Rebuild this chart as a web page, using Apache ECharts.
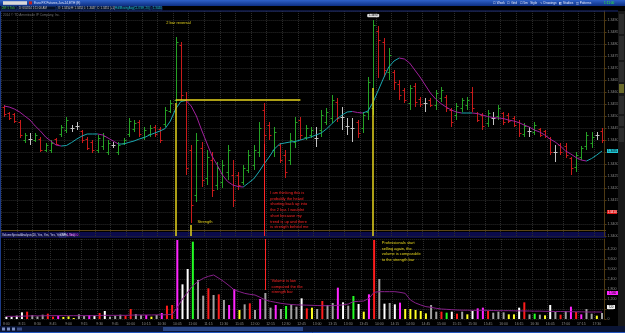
<!DOCTYPE html>
<html><head><meta charset="utf-8">
<script src="https://cdn.jsdelivr.net/npm/echarts@6/dist/echarts.min.js"></script>
<style>html,body{margin:0;padding:0;background:#000;}#c{width:625px;height:333px;}</style>
</head><body><div id="c"></div>
<script>
// ---- price bars (points; 12 pts = 0.0005) ----
const priceOpen = [129,123,122,114,96,97,96,97,86,86, 97,102,106,108,110,105,97,94,86,90, 84,91,84,93,102,107,114,99,102,109, 107,112,125,136,191,136,86,41,88,58, 76,51,54,64,61,61,54,66,71,84, 126,111,86,91,81,76,94,116,99,101, 98,106,114,118,134,119,110,108,114,108, 124,128,205,194,164,164,152,146,133,150, 137,133,136,131,138,139,126,121,128,131, 144,123,121,113,118,120,123,121,118,114, 102,105,104,107,105,98,84,91,90,78, 69,79,90,93,101,105];
const priceClose = [122,118,115,101,101,97,101,86,91,93, 92,109,116,108,110,96,88,86,98,100, 93,91,91,96,115,113,102,106,108,102, 96,126,133,194,141,68,31,96,56,79, 46,68,71,86,36,51,68,81,86,108, 101,101,104,76,64,96,114,101,108,106, 98,121,124,136,118,119,110,108,103,121, 154,211,196,166,181,154,141,136,148,134, 132,133,131,143,146,128,114,130,136,136, 128,116,110,123,118,128,114,115,111,103, 110,105,111,101,100,84,84,84,81,68, 81,88,101,99,101,96];
const priceHigh = [131,124,123,116,103,103,103,99,93,96, 98,111,119,111,114,106,99,96,101,103, 96,94,94,98,118,116,116,109,111,111, 109,129,136,199,194,144,91,103,94,86, 84,74,76,91,76,64,71,86,91,114, 133,114,109,93,86,103,119,119,111,109, 109,126,128,141,138,129,118,118,116,124, 159,216,210,198,188,166,156,148,151,153, 139,138,138,146,149,141,128,133,138,139, 149,124,123,126,124,131,124,123,120,116, 113,109,114,108,106,99,91,93,93,79, 84,90,104,104,104,108];
const priceLow = [119,116,113,98,93,91,94,84,84,83, 91,99,103,104,106,93,86,83,83,86, 81,88,81,91,99,104,99,96,99,99, 93,109,123,133,136,61,13,34,49,51, 39,46,48,56,29,46,51,63,66,79, 91,96,79,73,58,71,88,96,96,98, 89,99,111,113,114,106,101,94,98,103, 116,121,158,159,156,146,136,133,126,129, 129,124,129,126,134,124,109,116,124,126, 124,114,106,109,111,116,111,113,109,99, 99,99,101,99,98,81,74,81,78,61, 64,76,86,88,96,93];
// ---- moving average of price ----
const priceMA = [130,129,127,124,120,116,110,105,99,95, 91,90,90.5,93.5,97,100,102,102,102,101, 98,95,92,92,93.6,95,97,98.5,101,103, 105,107.5,115,127,134.5,135.5,130,120,106,93, 80,71,61,54.5,51,49.5,49,53,57,64, 72,79,87,92,93,94,94.5,96,97.5,99, 101,103,107,112,117,121,124,124.5,123.5,123, 125,134,146,158,169,175,178,177,173,166, 159,151,143,137,132.5,129,126,124,123,123, 123,122.5,121,119.5,118.5,118,117.5,116,115,113.5, 111,109,106,104,101,97,94,90,85,82, 78.5,76,75,77.5,81,85];
// ---- volume ----
const volume = [140,140,200,400,440,240,160,260,320,140, 200,120,160,60,280,180,240,200,360,480, 140,200,260,200,600,300,240,240,140,240, 360,800,840,4740,2080,3000,4640,2340,1400,1840, 1440,1480,1140,840,1800,540,880,940,540,1200, 1560,680,840,600,780,880,740,1240,640,680, 600,1080,840,960,1880,1000,800,1380,900,440, 1480,4740,2400,920,960,880,980,600,600,540, 480,340,840,440,440,380,440,320,440,280, 480,640,680,480,380,440,400,280,280,680, 1000,280,320,260,220,840,420,260,480,740, 420,280,600,320,200,360];
const volClass = ['W','W','W','W','R','G','G','G','R','R', 'M','Y','Y','Y','G','G','M','W','R','W', 'G','G','G','R','R','G','G','M','Y','G', 'M','R','R','M','W','W','L','G','G','R', 'G','R','G','M','M','Y','G','R','G','M', 'G','G','M','G','L','G','G','W','R','Y', 'G','R','G','G','M','W','G','L','W','Y', 'M','R','G','W','G','W','M','Y','Y','Y', 'Y','Y','G','G','R','L','W','R','G','Y', 'W','M','M','R','G','G','G','Y','Y','W', 'R','G','L','G','Y','W','G','R','G','M', 'R','M','G','G','Y','G'];
const volMA = [160,160,160,170,180,190,190,190,200,200, 200,200,200,200,200,200,200,200,210,220, 220,220,220,220,230,240,240,240,240,250, 250,260,280,700,1200,1600,2000,2250,2440,2560, 2640,2450,2240,2000,1740,1640,1540,1480,1440,1300, 1140,1060,1000,940,900,870,850,840,830,820, 810,800,800,800,820,850,900,1040,1060,1080, 1240,1600,1640,1640,1640,1640,1600,1540,1140,960, 840,740,700,640,600,580,560,540,530,530, 520,520,520,520,510,500,500,500,490,490, 480,480,470,470,460,460,450,450,440,440, 430,430,420,420,420,420];
// ---- time categories (5-minute bars) ----
const categories = [];
for (let i = 0; i < priceOpen.length; i++) { const m = 8*60 + 5*i; categories.push(Math.floor(m/60) + ':' + String(m%60).padStart(2,'0')); }
// ---- annotation anchors ----
const reversalIdx = 33, reversalLevel = 136.5, reversalEndIdx = 57;
const strengthIdx = 36, retestIdx = 50, sellIdx = 71;

const F = '"Liberation Sans", Arial, sans-serif';
const UP = '#25a125', DOWN = '#c91a1a', FLAT = '#c4c4c4';
const MA_UP = '#1aa8b0', MA_DN = '#a1209d';
const YEL = '#e6d41c', RED = '#ff2525';
const VOLC = {W:'#ffffff', G:'#a2a2a2', R:'#ff1c1c', M:'#ff24ff', Y:'#ffff24', L:'#24ff24'};
const fmtPrice = v => (1.3400 + v * 0.0005 / 12).toFixed(4);

const chart = echarts.init(document.getElementById('c'));
const N = priceOpen.length;
const ohlc = priceOpen.map((o, i) => [i, o, priceClose[i], priceLow[i], priceHigh[i]]);

function renderBar(params, api) {
  const i = api.value(0), o = api.value(1), c = api.value(2), l = api.value(3), h = api.value(4);
  const t = api.coord([i, h]), b = api.coord([i, l]), po = api.coord([i, o]), pc = api.coord([i, c]);
  const x = Math.round(t[0]) + 0.5;
  const col = c > o ? UP : (c < o ? DOWN : FLAT);
  const st = {stroke: col, lineWidth: 1};
  const yo = Math.round(po[1]) + 0.5, yc = Math.round(pc[1]) + 0.5;
  return {type: 'group', children: [
    {type: 'line', shape: {x1: x, y1: t[1], x2: x, y2: b[1]}, style: st},
    {type: 'line', shape: {x1: x - 2, y1: yo, x2: x, y2: yo}, style: st},
    {type: 'line', shape: {x1: x, y1: yc, x2: x + 2, y2: yc}, style: st}
  ]};
}
function renderMA(params, api) {
  const i = api.value(0);
  if (i === 0) return null;
  const v = api.value(1), prev = priceMA[i - 1];
  const p1 = api.coord([i - 1, prev]), p2 = api.coord([i, v]);
  return {type: 'line', shape: {x1: p1[0], y1: p1[1], x2: p2[0], y2: p2[1]},
    style: {stroke: v >= prev ? MA_UP : MA_DN, lineWidth: 1}};
}
const txt = (s, color, extra) => Object.assign({show: true, formatter: s, color: color, fontSize: 4, fontFamily: F, position: 'right', distance: 1, align: 'left', lineHeight: 5.7}, extra || {});
const grids = [
  {left: 1.4, right: 20.4, top: 11, height: 225},
  {left: 1.4, right: 20.4, top: 239, height: 80}
];
const split = {show: true, lineStyle: {color: '#2b2b2b', type: 'dotted', width: 1}};

const option = {
  backgroundColor: '#000',
  animation: false,
  grid: grids,
  xAxis: [
    {gridIndex: 0, type: 'category', data: categories, axisLine: {show: false}, axisTick: {show: false}, axisLabel: {show: false}, splitLine: Object.assign({interval: 2}, split)},
    {gridIndex: 1, type: 'category', data: categories, axisLine: {show: false}, axisTick: {show: false},
      axisLabel: {show: true, interval: 2, fontSize: 3.5, color: '#8a8a8a', margin: 3, fontFamily: F}, splitLine: Object.assign({interval: 2}, split)}
  ],
  yAxis: [
    {gridIndex: 0, type: 'value', position: 'right', min: 0, max: 225, interval: 12,
      axisLine: {show: true, lineStyle: {color: '#4e3913'}}, axisTick: {show: true, length: 2, lineStyle: {color: '#4e3913'}},
      axisLabel: {fontSize: 3.6, color: '#8e8e8e', margin: 3, fontFamily: F, formatter: fmtPrice, showMaxLabel: false}, splitLine: split},
    {gridIndex: 1, type: 'value', position: 'right', min: 0, max: 4800, interval: 600,
      axisLine: {show: true, lineStyle: {color: '#4e3913'}}, axisTick: {show: true, length: 2, lineStyle: {color: '#4e3913'}},
      axisLabel: {fontSize: 3.6, color: '#8e8e8e', margin: 3, fontFamily: F, formatter: v => v.toLocaleString('en-US'), showMaxLabel: false}, splitLine: split}
  ],
  series: [
    {type: 'custom', name: 'Price', xAxisIndex: 0, yAxisIndex: 0, data: ohlc, renderItem: renderBar, encode: {x: 0, y: [1, 2, 3, 4]}, z: 3,
      markLine: {silent: true, symbol: ['none', 'none'], label: {show: false}, z: 5, data: [
        [{coord: [reversalIdx, reversalLevel], lineStyle: {color: YEL, width: 1.5, type: 'solid'}}, {coord: [reversalEndIdx, reversalLevel]}],
        [{coord: [reversalIdx, priceLow[reversalIdx]], lineStyle: {color: YEL, width: 1.5, type: 'solid'}}, {coord: [reversalIdx, 0]}],
        [{coord: [strengthIdx, 11], lineStyle: {color: YEL, width: 1.5, type: 'solid'}}, {coord: [strengthIdx, 0]}],
        [{coord: [retestIdx, 92], lineStyle: {color: RED, width: 1, type: 'solid'}}, {coord: [retestIdx, 0]}],
        [{coord: [sellIdx, 148], lineStyle: {color: YEL, width: 1.5, type: 'solid'}}, {coord: [sellIdx, 0]}]
      ]},
      markPoint: {silent: true, z: 6, data: [
        {coord: [31, 213], symbol: 'circle', symbolSize: 0, label: txt('2 bar reversal', YEL)},
        {coord: [37, 14], symbol: 'circle', symbolSize: 0, label: txt('Strength', YEL)},
        {coord: [51, 26], symbol: 'circle', symbolSize: 0, label: txt('I am thinking this is\nprobably the heard\nshorting back up into\nthe 2 bar. I wouldnt\nshort because my\ntrend is up and there\nis strength behind me', RED)},
        {coord: [sellIdx, priceHigh[sellIdx]], symbol: 'roundRect', symbolSize: [12, 3.6], symbolOffset: [0, -4.5], itemStyle: {color: '#dcdcdc'},
          label: {show: true, position: 'inside', formatter: fmtPrice(priceHigh[sellIdx]), color: '#000', fontSize: 2.8, fontFamily: F}},
        {coord: [N - 1, priceMA[N - 1]], symbol: 'rect', symbolSize: [11, 4], symbolOffset: [10.5, 0], itemStyle: {color: '#20c8d6'},
          label: {show: true, position: 'inside', formatter: fmtPrice(priceMA[N - 1]), color: '#000', fontSize: 3, fontFamily: F}},
        {coord: [N - 1, 24], symbol: 'rect', symbolSize: [10, 4], symbolOffset: [10, 0], itemStyle: {color: '#e01818'},
          label: {show: true, position: 'inside', formatter: fmtPrice(24), color: '#fff', fontSize: 3, fontFamily: F}}
      ]}
    },
    {type: 'custom', name: 'MA', xAxisIndex: 0, yAxisIndex: 0, data: priceMA.map((v, i) => [i, v]), renderItem: renderMA, encode: {x: 0, y: 1}, z: 4},
    {type: 'bar', name: 'Volume', xAxisIndex: 1, yAxisIndex: 1, data: volume, barWidth: 2,
      itemStyle: {color: p => VOLC[volClass[p.dataIndex]]},
      markLine: {silent: true, symbol: ['none', 'none'], label: {show: false}, data: [
        [{coord: [retestIdx, 4800], lineStyle: {color: RED, width: 1, type: 'solid'}}, {coord: [retestIdx, 1740]}]
      ]},
      markPoint: {silent: true, data: [
        {coord: [51, 1950], symbol: 'circle', symbolSize: 0, label: txt('Volume is low\ncompared the the\nstrength bar', RED)},
        {coord: [72, 4050], symbol: 'circle', symbolSize: 0, label: txt('Professionals start\nselling again, the\nvolume is comparable\nto the strength bar', YEL, {distance: 2.5})},
        {coord: [N - 1, 1560], symbol: 'rect', symbolSize: [11, 4], symbolOffset: [10.5, 0], itemStyle: {color: '#ff24ff'},
          label: {show: true, position: 'inside', formatter: '1,560', color: '#000', fontSize: 3, fontFamily: F}},
        {coord: [N - 1, 720], symbol: 'rect', symbolSize: [8, 4], symbolOffset: [9, 0], itemStyle: {color: '#f0f0f0'},
          label: {show: true, position: 'inside', formatter: '720', color: '#000', fontSize: 3, fontFamily: F}}
      ]}
    },
    {type: 'line', name: 'VolMA', xAxisIndex: 1, yAxisIndex: 1, data: volMA, showSymbol: false, symbol: 'none',
      lineStyle: {color: '#86208a', width: 1}, z: 4}
  ],
  graphic: {elements: [
    {type: 'rect', z: 0, shape: {x: 0, y: 0, width: 625, height: 6}, style: {fill: new echarts.graphic.LinearGradient(0, 0, 0, 1, [{offset: 0, color: '#2f62c8'}, {offset: 1, color: '#0d2f82'}])}},
    {type: 'rect', z: 1, shape: {x: 3, y: 1.2, width: 24, height: 3.6}, style: {fill: '#d8d8d8'}},
    {type: 'rect', z: 1, shape: {x: 29, y: 1.4, width: 3, height: 3}, style: {fill: '#c02020'}},
    {type: 'text', z: 10, x: 34, y: 3.2, style: {text: 'Euro FX Futures,Jun-14,ETH (E)', fill: '#dfe6ff', fontSize: 3.2, fontFamily: F, verticalAlign: 'middle'}},
    {type: 'text', z: 10, x: 493, y: 3.2, style: {text: '☐ Week   ☐ Grid   ☐ 5m   Style   ✎ Drawings   ◧ Studies   ◫ Patterns', fill: '#e8ecff', fontSize: 3.1, fontFamily: F, verticalAlign: 'middle'}},
    {type: 'text', z: 10, x: 604, y: 3.2, style: {text: '1:11:00', fill: '#2cff2c', fontSize: 3.2, fontFamily: F, verticalAlign: 'middle'}},
    {type: 'rect', z: 0, shape: {x: 0, y: 6, width: 625, height: 5}, style: {fill: '#000'}},
    {type: 'rect', z: 1, shape: {x: 1, y: 6.5, width: 16, height: 3.6}, style: {fill: '#041024', stroke: '#1d3f8c', lineWidth: 0.6}},
    {type: 'text', z: 10, x: 2, y: 8.4, style: {text: '2M: 5 Tick', fill: '#4bd44b', fontSize: 2.8, fontFamily: F, verticalAlign: 'middle'}},
    {type: 'rect', z: 1, shape: {x: 18, y: 6.5, width: 38, height: 3.6}, style: {fill: '#041024', stroke: '#1d3f8c', lineWidth: 0.6}},
    {type: 'text', z: 10, x: 19, y: 8.4, style: {text: 'D: 6/02/14 1:11:00 AM', fill: '#c8c8c8', fontSize: 2.8, fontFamily: F, verticalAlign: 'middle'}},
    {type: 'rect', z: 1, shape: {x: 57, y: 6.5, width: 12, height: 3.6}, style: {fill: '#041024', stroke: '#1d3f8c', lineWidth: 0.6}},
    {type: 'text', z: 10, x: 58, y: 8.4, style: {text: 'O: 1.3450', fill: '#c8c8c8', fontSize: 2.8, fontFamily: F, verticalAlign: 'middle'}},
    {type: 'rect', z: 1, shape: {x: 70, y: 6.5, width: 12, height: 3.6}, style: {fill: '#041024', stroke: '#1d3f8c', lineWidth: 0.6}},
    {type: 'text', z: 10, x: 71, y: 8.4, style: {text: 'H: 1.3452', fill: '#c8c8c8', fontSize: 2.8, fontFamily: F, verticalAlign: 'middle'}},
    {type: 'rect', z: 1, shape: {x: 83, y: 6.5, width: 12, height: 3.6}, style: {fill: '#041024', stroke: '#1d3f8c', lineWidth: 0.6}},
    {type: 'text', z: 10, x: 84, y: 8.4, style: {text: 'L: 1.3447', fill: '#c8c8c8', fontSize: 2.8, fontFamily: F, verticalAlign: 'middle'}},
    {type: 'rect', z: 1, shape: {x: 96, y: 6.5, width: 17, height: 3.6}, style: {fill: '#041024', stroke: '#1d3f8c', lineWidth: 0.6}},
    {type: 'text', z: 10, x: 97, y: 8.4, style: {text: 'C: 1.3451 (+1)', fill: '#c8c8c8', fontSize: 2.8, fontFamily: F, verticalAlign: 'middle'}},
    {type: 'rect', z: 1, shape: {x: 114, y: 6.5, width: 37, height: 3.6}, style: {fill: '#041024', stroke: '#1d3f8c', lineWidth: 0.6}},
    {type: 'text', z: 10, x: 115, y: 8.4, style: {text: 'HullMovingAvg(CLOSE, 20)', fill: '#22c8d8', fontSize: 2.8, fontFamily: F, verticalAlign: 'middle'}},
    {type: 'rect', z: 1, shape: {x: 152, y: 6.5, width: 10, height: 3.6}, style: {fill: '#041024', stroke: '#1d3f8c', lineWidth: 0.6}},
    {type: 'text', z: 10, x: 153, y: 8.4, style: {text: '1.3444', fill: '#22c8d8', fontSize: 2.8, fontFamily: F, verticalAlign: 'middle'}},
    {type: 'line', z: 1, shape: {x1: 0, y1: 11, x2: 618, y2: 11}, style: {stroke: '#1c2d78', lineWidth: 1}},
    {type: 'text', z: 10, x: 3, y: 15, style: {text: '2014 © TD Ameritrade IP Company, Inc.', fill: '#6e6e6e', fontSize: 3.2, fontFamily: F, verticalAlign: 'middle'}},
    {type: 'line', z: 1, shape: {x1: 0, y1: 230.5, x2: 606, y2: 230.5}, style: {stroke: '#5b4517', lineWidth: 1}},
    {type: 'rect', z: 0, shape: {x: 0, y: 232, width: 606, height: 6}, style: {fill: '#0b0b4c'}},
    {type: 'text', z: 10, x: 2, y: 235.2, style: {text: 'VolumeSpreadAnalysis(20, Yes, Yes, Yes, Yes, Yes, Yes)', fill: '#d8d8f0', fontSize: 2.9, fontFamily: F, verticalAlign: 'middle'}},
    {type: 'rect', z: 1, shape: {x: 59, y: 233, width: 7, height: 4}, style: {fill: '#0b0b4c', stroke: '#5a5aa0', lineWidth: 0.5}},
    {type: 'text', z: 10, x: 60, y: 235.2, style: {text: 'VAP', fill: '#d8d8f0', fontSize: 2.9, fontFamily: F, verticalAlign: 'middle'}},
    {type: 'text', z: 10, x: 67, y: 235.2, style: {text: '1,560.00', fill: '#ff40ff', fontSize: 2.9, fontFamily: F, verticalAlign: 'middle'}},
    {type: 'line', z: 1, shape: {x1: 0.5, y1: 11, x2: 0.5, y2: 326}, style: {stroke: '#1c3a86', lineWidth: 1}},
    {type: 'rect', z: 1, shape: {x: 618, y: 11, width: 7, height: 316}, style: {fill: '#181818'}},
    {type: 'rect', z: 2, shape: {x: 619, y: 14, width: 5, height: 20}, style: {fill: '#2c2c2c'}},
    {type: 'rect', z: 2, shape: {x: 619, y: 36, width: 5, height: 24}, style: {fill: '#2c2c2c'}},
    {type: 'rect', z: 2, shape: {x: 619, y: 62, width: 5, height: 20}, style: {fill: '#2c2c2c'}},
    {type: 'rect', z: 2, shape: {x: 619, y: 84, width: 5, height: 9}, style: {fill: '#6a6a2a'}},
    {type: 'rect', z: 2, shape: {x: 619, y: 96, width: 5, height: 18}, style: {fill: '#2c2c2c'}},
    {type: 'rect', z: 2, shape: {x: 619, y: 116, width: 5, height: 10}, style: {fill: '#2c2c2c'}},
    {type: 'rect', z: 2, shape: {x: 619, y: 128, width: 5, height: 14}, style: {fill: '#2c2c2c'}},
    {type: 'rect', z: 1, shape: {x: 0, y: 326, width: 625, height: 7}, style: {fill: '#0a1434'}},
    {type: 'rect', z: 2, shape: {x: 2, y: 327.5, width: 3, height: 3}, style: {fill: '#7a8cc0'}},
    {type: 'rect', z: 2, shape: {x: 7, y: 327.5, width: 3, height: 3}, style: {fill: '#7a8cc0'}},
    {type: 'rect', z: 2, shape: {x: 12, y: 327.5, width: 3, height: 3}, style: {fill: '#7a8cc0'}},
    {type: 'rect', z: 2, shape: {x: 17, y: 327.5, width: 5, height: 3}, style: {fill: '#3a4a80'}},
    {type: 'rect', z: 2, shape: {x: 163, y: 327, width: 140, height: 4}, style: {fill: '#2b4685'}},
    {type: 'line', z: 2, shape: {x1: 0, y1: 332.5, x2: 625, y2: 332.5}, style: {stroke: '#2457c0', lineWidth: 1}}
  ]}
};
chart.setOption(option);
</script></body></html>
